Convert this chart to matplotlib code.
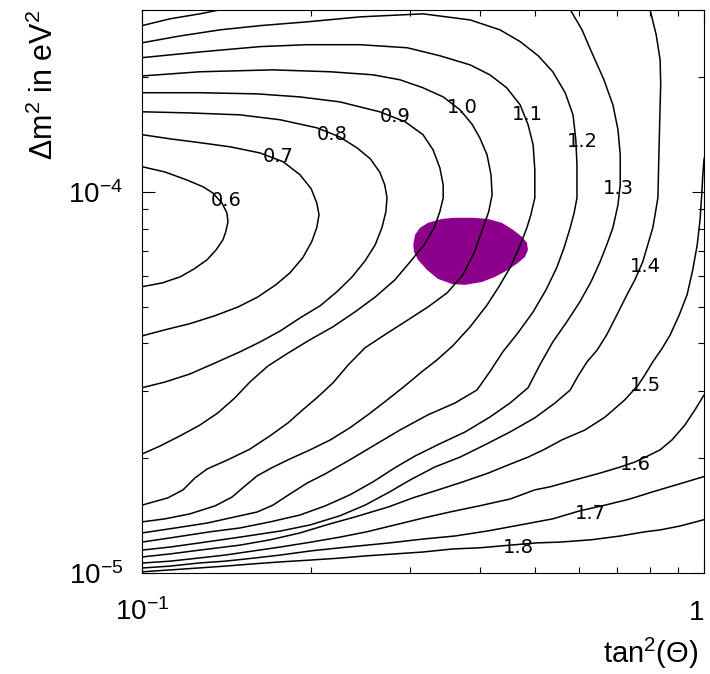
import matplotlib
matplotlib.use('Agg')
import matplotlib.pyplot as plt
import numpy as np
from matplotlib.ticker import NullFormatter

plt.rcParams['font.family'] = ['Liberation Sans', 'DejaVu Sans']
plt.rcParams['mathtext.default'] = 'regular'

# iso-ratio lines, read as log10(tan^2) / log10(dm^2 in eV^2)
T06 = [-1.000, -0.959, -0.920, -0.891, -0.874, -0.858, -0.849, -0.847, -0.851, -0.856, -0.868, -0.884,
       -0.907, -0.932, -0.964, -1.000]
M06 = [-3.934, -3.948, -3.969, -3.987, -4.003, -4.029, -4.055, -4.079, -4.105, -4.126, -4.152, -4.178,
       -4.202, -4.223, -4.239, -4.249]

T07 = [-1.000, -0.950, -0.897, -0.843, -0.790, -0.749, -0.719, -0.699, -0.689, -0.685, -0.689, -0.698,
       -0.714, -0.737, -0.762, -0.794, -0.829, -0.870, -0.915, -0.959, -1.000]
M07 = [-3.850, -3.861, -3.871, -3.882, -3.898, -3.921, -3.955, -3.992, -4.029, -4.060, -4.094, -4.131,
       -4.173, -4.213, -4.244, -4.276, -4.302, -4.325, -4.346, -4.362, -4.378]

T08 = [-1.000, -0.915, -0.826, -0.754, -0.689, -0.648, -0.617, -0.594, -0.577, -0.568, -0.564, -0.566,
       -0.573, -0.585, -0.603, -0.626, -0.653, -0.683, -0.719, -0.754, -0.790, -0.826, -0.870, -0.915,
       -0.959, -1.000]
M08 = [-3.790, -3.793, -3.798, -3.811, -3.832, -3.856, -3.885, -3.913, -3.948, -3.982, -4.016, -4.052,
       -4.094, -4.139, -4.181, -4.223, -4.262, -4.299, -4.331, -4.365, -4.394, -4.420, -4.449, -4.478,
       -4.499, -4.514]

T09 = [-1.000, -0.897, -0.795, -0.719, -0.648, -0.577, -0.532, -0.500, -0.482, -0.470, -0.464, -0.464,
       -0.470, -0.480, -0.498, -0.523, -0.550, -0.585, -0.621, -0.660, -0.701, -0.740, -0.776, -0.808,
       -0.835, -0.865, -0.897, -0.932, -0.968, -1.000]
M09 = [-3.740, -3.740, -3.743, -3.751, -3.764, -3.790, -3.816, -3.850, -3.890, -3.937, -3.982, -4.016,
       -4.052, -4.094, -4.139, -4.184, -4.231, -4.276, -4.315, -4.354, -4.388, -4.423, -4.457, -4.499,
       -4.541, -4.580, -4.612, -4.640, -4.667, -4.688]

T10 = [-1.000, -0.897, -0.767, -0.665, -0.589, -0.541, -0.500, -0.464, -0.434, -0.413, -0.399, -0.386,
       -0.379, -0.377, -0.383, -0.393, -0.409, -0.429, -0.457, -0.491, -0.532, -0.568, -0.603, -0.633,
       -0.660, -0.687, -0.714, -0.740, -0.772, -0.808, -0.847, -0.884, -0.906, -0.927, -0.954, -1.000]
M10 = [-3.696, -3.685, -3.680, -3.685, -3.693, -3.706, -3.727, -3.751, -3.785, -3.822, -3.858, -3.903,
       -3.955, -4.008, -4.052, -4.094, -4.160, -4.218, -4.265, -4.302, -4.341, -4.375, -4.409, -4.454,
       -4.501, -4.538, -4.572, -4.606, -4.640, -4.675, -4.703, -4.727, -4.751, -4.782, -4.803, -4.822]

T11 = [-1.000, -0.897, -0.790, -0.706, -0.612, -0.528, -0.470, -0.416, -0.381, -0.351, -0.327, -0.313,
       -0.304, -0.301, -0.301, -0.308, -0.315, -0.329, -0.345, -0.365, -0.386, -0.416, -0.447, -0.475,
       -0.502, -0.532, -0.568, -0.598, -0.630, -0.665, -0.701, -0.737, -0.769, -0.795, -0.817, -0.840,
       -0.870, -0.915, -0.959, -1.000]
M11 = [-3.648, -3.633, -3.619, -3.614, -3.614, -3.622, -3.643, -3.667, -3.693, -3.727, -3.772, -3.824,
       -3.877, -3.942, -4.016, -4.060, -4.094, -4.147, -4.199, -4.249, -4.297, -4.354, -4.404, -4.441,
       -4.472, -4.509, -4.551, -4.585, -4.619, -4.651, -4.677, -4.701, -4.724, -4.745, -4.772, -4.801,
       -4.824, -4.845, -4.858, -4.866]

T12 = [-1.000, -0.932, -0.861, -0.790, -0.706, -0.612, -0.500, -0.416, -0.363, -0.327, -0.295, -0.269,
       -0.247, -0.233, -0.228, -0.226, -0.226, -0.231, -0.238, -0.249, -0.262, -0.281, -0.304, -0.331,
       -0.358, -0.381, -0.404, -0.443, -0.491, -0.541, -0.589, -0.630, -0.674, -0.706, -0.737, -0.767,
       -0.795, -0.835, -0.884, -0.941, -1.000]
M12 = [-3.609, -3.591, -3.575, -3.564, -3.554, -3.541, -3.533, -3.549, -3.575, -3.606, -3.643, -3.685,
       -3.740, -3.798, -3.864, -3.929, -4.016, -4.055, -4.094, -4.147, -4.199, -4.257, -4.315, -4.370,
       -4.420, -4.472, -4.520, -4.554, -4.585, -4.625, -4.667, -4.703, -4.740, -4.764, -4.793, -4.822,
       -4.840, -4.853, -4.869, -4.882, -4.895]

# this one leaves through the top of the frame and comes back in
T13 = [-1.000, -0.950, -0.897, -0.843, -0.719, -0.541, -0.327, -0.247, -0.238, -0.217, -0.198, -0.178,
       -0.162, -0.153, -0.149, -0.149, -0.153, -0.162, -0.173, -0.185, -0.201, -0.221, -0.244, -0.269,
       -0.292, -0.313, -0.345, -0.381, -0.425, -0.470, -0.514, -0.550, -0.589, -0.630, -0.674, -0.719,
       -0.772, -0.826, -0.879, -0.941, -1.000]
M13 = [-3.564, -3.546, -3.533, -3.517, -3.501, -3.496, -3.501, -3.509, -3.522, -3.575, -3.640, -3.706,
       -3.772, -3.837, -3.903, -3.982, -4.034, -4.094, -4.139, -4.184, -4.236, -4.289, -4.341, -4.394,
       -4.454, -4.514, -4.554, -4.591, -4.630, -4.661, -4.693, -4.724, -4.761, -4.795, -4.824, -4.848,
       -4.866, -4.882, -4.892, -4.906, -4.919]

T14 = [-0.100, -0.096, -0.085, -0.078, -0.077, -0.078, -0.080, -0.082, -0.087, -0.091, -0.100, -0.109,
       -0.123, -0.137, -0.155, -0.173, -0.190, -0.208, -0.224, -0.238, -0.265, -0.301, -0.345, -0.390,
       -0.434, -0.479, -0.523, -0.559, -0.603, -0.648, -0.701, -0.754, -0.826, -0.897, -0.950, -1.000]
M14 = [-3.496, -3.522, -3.588, -3.654, -3.719, -3.772, -3.890, -4.016, -4.060, -4.094, -4.139, -4.184,
       -4.231, -4.270, -4.323, -4.375, -4.415, -4.446, -4.483, -4.520, -4.554, -4.593, -4.630, -4.664,
       -4.696, -4.722, -4.756, -4.787, -4.822, -4.850, -4.874, -4.890, -4.906, -4.921, -4.932, -4.940]

T15 = [0.004, 0.000, -0.002, -0.004, -0.007, -0.012, -0.020, -0.030, -0.044, -0.060, -0.075, -0.091,
       -0.105, -0.117, -0.141, -0.176, -0.212, -0.253, -0.283, -0.313, -0.349, -0.384, -0.429, -0.473,
       -0.518, -0.562, -0.621, -0.665, -0.719, -0.772, -0.826, -0.897, -0.950, -1.000]
M15 = [-3.890, -3.916, -3.955, -4.008, -4.074, -4.139, -4.205, -4.270, -4.323, -4.375, -4.412, -4.446,
       -4.480, -4.507, -4.546, -4.591, -4.625, -4.651, -4.675, -4.696, -4.717, -4.738, -4.761, -4.782,
       -4.803, -4.827, -4.853, -4.871, -4.895, -4.913, -4.927, -4.940, -4.950, -4.958]

T16 = [0.004, -0.002, -0.016, -0.034, -0.057, -0.078, -0.100, -0.123, -0.149, -0.185, -0.230, -0.274,
       -0.301, -0.345, -0.400, -0.452, -0.500, -0.550, -0.600, -0.648, -0.699, -0.754, -0.801, -0.852,
       -0.900, -0.950, -1.000]
M16 = [-4.525, -4.538, -4.572, -4.612, -4.651, -4.677, -4.693, -4.709, -4.722, -4.738, -4.756, -4.774,
       -4.782, -4.806, -4.824, -4.840, -4.856, -4.874, -4.892, -4.906, -4.919, -4.932, -4.942, -4.953,
       -4.961, -4.969, -4.974]

T17 = [0.004, -0.002, -0.043, -0.091, -0.132, -0.176, -0.221, -0.269, -0.327, -0.386, -0.443, -0.500,
       -0.559, -0.600, -0.648, -0.699, -0.754, -0.801, -0.852, -0.900, -0.950, -1.000]
M17 = [-4.745, -4.748, -4.766, -4.787, -4.806, -4.822, -4.837, -4.858, -4.874, -4.890, -4.903, -4.911,
       -4.921, -4.927, -4.934, -4.942, -4.953, -4.961, -4.969, -4.974, -4.982, -4.987]

T18 = [0.004, -0.002, -0.043, -0.078, -0.105, -0.149, -0.201, -0.256, -0.297, -0.345, -0.399, -0.447,
       -0.500, -0.550, -0.600, -0.648, -0.699, -0.754, -0.801, -0.852, -0.900, -0.950, -1.000]
M18 = [-4.858, -4.861, -4.877, -4.887, -4.892, -4.903, -4.913, -4.919, -4.921, -4.927, -4.934, -4.937,
       -4.945, -4.950, -4.955, -4.961, -4.966, -4.971, -4.976, -4.982, -4.987, -4.992, -4.997]

LEVELS = [0.6, 0.7, 0.8, 0.9, 1.0, 1.1, 1.2, 1.3, 1.4, 1.5, 1.6, 1.7, 1.8]
# where each level's number is written (tan2, dm2)
LABEL_POS = [(0.1411, 9.58e-5), (0.1745, 1.251e-4), (0.2178, 1.429e-4), (0.2818, 1.593e-4),
             (0.3709, 1.681e-4), (0.4842, 1.612e-4), (0.6067, 1.369e-4), (0.7031, 1.031e-4),
             (0.7853, 6.43e-5), (0.7853, 3.15e-5), (0.7537, 1.944e-5), (0.6270, 1.446e-5),
             (0.4667, 1.184e-5)]

# allowed region outline
REGION_TAN2 = [0.3039, 0.3061, 0.3124, 0.3228, 0.3417, 0.3606, 0.3866, 0.4127, 0.4371, 0.4573,
               0.4744, 0.4842, 0.4862, 0.4803, 0.4667, 0.4480, 0.4247, 0.4027, 0.3757, 0.3562,
               0.3362, 0.3215, 0.3099, 0.3048]
REGION_DM2 = [7.26e-5, 7.71e-5, 8.05e-5, 8.29e-5, 8.49e-5, 8.55e-5, 8.55e-5, 8.49e-5, 8.29e-5, 7.95e-5,
              7.62e-5, 7.35e-5, 7.04e-5, 6.75e-5, 6.51e-5, 6.24e-5, 5.98e-5, 5.80e-5, 5.70e-5, 5.73e-5,
              5.91e-5, 6.24e-5, 6.63e-5, 6.96e-5]

lines = [(T06, M06), (T07, M07), (T08, M08), (T09, M09), (T10, M10), (T11, M11), (T12, M12),
         (T13, M13), (T14, M14), (T15, M15), (T16, M16), (T17, M17), (T18, M18)]

fig = plt.figure(figsize=(7.1, 6.74), dpi=100)
ax = fig.add_axes([0.2, 0.1499, 0.7915, 0.8353])

ax.fill(REGION_TAN2, REGION_DM2, color='#8c008c', lw=0, zorder=1)

for (lt, lm), lev, (px, py) in zip(lines, LEVELS, LABEL_POS):
    ax.plot(10 ** np.array(lt), 10 ** np.array(lm), color='black', lw=1.1, zorder=2)
    ax.text(px, py, f'{lev:.1f}', fontsize=14, family='DejaVu Sans',
            ha='center', va='center_baseline', zorder=3)

ax.set_xscale('log')
ax.set_yscale('log')
ax.set_xlim(0.1, 1)
ax.set_ylim(1e-5, 3e-4)
ax.set_xticks([0.1, 1], labels=['$10^{-1}$', '1'])
ax.set_yticks([1e-5, 1e-4], labels=['$10^{-5}$', '$10^{-4}$'])
ax.xaxis.set_minor_formatter(NullFormatter())
ax.yaxis.set_minor_formatter(NullFormatter())
ax.tick_params(which='both', direction='in', top=True, right=True, width=0.8)
ax.tick_params(which='major', length=9)
ax.tick_params(which='minor', length=4.5)
ax.tick_params(axis='x', labelsize=20, pad=34)
ax.tick_params(axis='y', labelsize=20, pad=13.5)
xt = ax.get_xticklabels()
for t in xt:
    t.set_verticalalignment('baseline')
xt[-1].set_horizontalalignment('right')
for s in ax.spines.values():
    s.set_linewidth(0.8)

ax.set_xlabel('tan$^2$(Θ)', fontsize=21, loc='right')
ax.xaxis.set_label_coords(0.989, -0.112)
ax.set_ylabel('Δm$^2$ in eV$^2$', fontsize=22, loc='top')
ax.yaxis.set_label_coords(-0.146, 1.0)

fig.savefig('out.png', dpi=100)
